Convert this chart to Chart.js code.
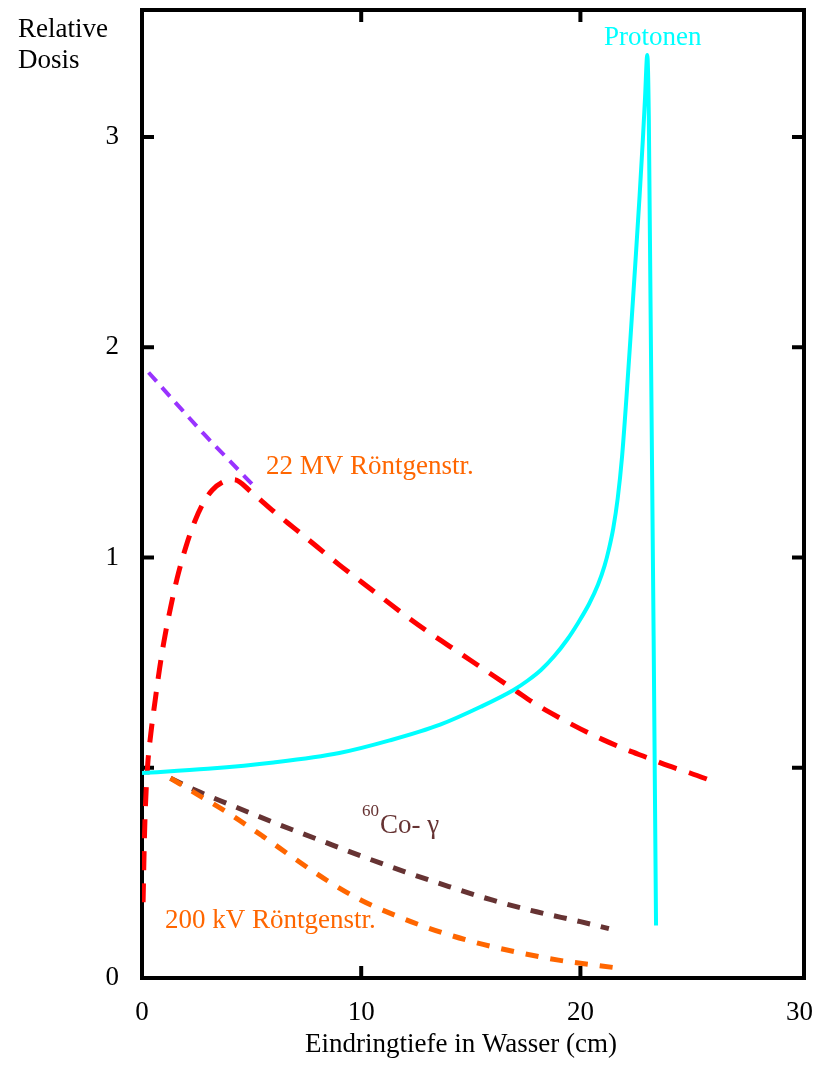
<!DOCTYPE html>
<html>
<head>
<meta charset="utf-8">
<script src="https://cdn.jsdelivr.net/npm/chart.js@4/dist/chart.umd.min.js"></script>
<style>
  html, body { margin: 0; padding: 0; background: #fff; }
  canvas { display: block; }
</style>
</head>
<body>
<canvas id="c" width="819" height="1065"></canvas>
<script>
// Axis ticks (depth in cm, dose in tick units)
const xTicks = [0, 10, 20, 30];
const yTicks = [0, 1, 2, 3, 4];
const yTickLabels = ['0', '', '1', '2', '3'];

// Protons: slow rise, Bragg peak, sharp fall-off
const protonDepth = [0, 3, 6, 9, 11.3, 13.6, 15.45, 16.95, 17.6, 18.2, 18.8, 19.4, 19.9, 20.4, 20.8, 21.1, 21.3, 21.5, 21.7, 21.9, 22.1, 22.3, 22.5, 22.7, 22.85, 22.95, 23.05, 23.12, 23.45];
const protonDose  = [0.975, 0.995, 1.025, 1.07, 1.13, 1.205, 1.29, 1.37, 1.415, 1.465, 1.53, 1.61, 1.69, 1.78, 1.87, 1.96, 2.04, 2.14, 2.28, 2.48, 2.76, 3.07, 3.39, 3.72, 3.99, 4.19, 4.39, 4.10, 0.25];

// 22 MV X-rays: build-up then slow decline
const mv22Depth = [0.05, 0.1, 0.15, 0.25, 0.4, 0.6, 0.8, 1.0, 1.3, 1.6, 2.0, 2.4, 2.8, 3.2, 3.7, 4.2, 5.0, 6.0, 7.0, 8.0, 9.0, 10.0, 11.0, 12.0, 13.0, 14.0, 15.0, 16.0, 17.0, 18.0, 19.0, 20.0, 21.0, 22.0, 23.0, 24.0, 25.0, 26.2];
const mv22Dose  = [0.36, 0.62, 0.80, 1.00, 1.16, 1.32, 1.47, 1.60, 1.76, 1.90, 2.05, 2.17, 2.26, 2.32, 2.36, 2.37, 2.31, 2.22, 2.135, 2.05, 1.965, 1.885, 1.805, 1.725, 1.65, 1.58, 1.51, 1.44, 1.37, 1.30, 1.24, 1.185, 1.135, 1.09, 1.05, 1.01, 0.975, 0.93];

// Short purple segment near the surface
const purpleDepth = [0.3, 1.5, 2.8, 4.0, 5.1];
const purpleDose  = [2.88, 2.74, 2.59, 2.46, 2.34];

// Co-60 gamma
const coDepth = [1.3, 2.5, 4, 6, 8, 10, 12, 14, 16, 18, 20, 21.3];
const coDose  = [0.95, 0.89, 0.825, 0.74, 0.66, 0.58, 0.505, 0.435, 0.37, 0.315, 0.268, 0.235];

// 200 kV X-rays
const kvDepth = [1.3, 2.5, 4, 5.5, 7, 8.5, 10, 11.5, 13, 15, 17, 19, 21.5];
const kvDose  = [0.95, 0.875, 0.78, 0.675, 0.565, 0.46, 0.37, 0.30, 0.24, 0.175, 0.125, 0.085, 0.05];

const pts = (xs, ys) => xs.map((x, i) => ({ x, y: ys[i] }));

const SERIF = '"Liberation Serif", "Times New Roman", serif';
const FONT_SIZE = 27;

const line = (ctx, x1, y1, x2, y2) => {
  ctx.beginPath(); ctx.moveTo(x1, y1); ctx.lineTo(x2, y2); ctx.stroke();
};

// Box frame with inward ticks, plus free text labels
const framePlugin = {
  id: 'framePlugin',
  beforeDatasetsDraw(chart) {
    const { ctx, chartArea: a, scales: { x, y } } = chart;
    ctx.save();
    ctx.strokeStyle = '#000';
    ctx.lineWidth = 4;
    ctx.lineCap = 'butt';
    ctx.strokeRect(a.left, a.top, a.right - a.left, a.bottom - a.top);
    const L = 12;
    xTicks.forEach(v => {
      if (v <= x.min || v >= 30) return;
      const px = x.getPixelForValue(v);
      line(ctx, px, a.bottom, px, a.bottom - L);
      line(ctx, px, a.top, px, a.top + L);
    });
    yTicks.forEach(v => {
      if (v <= y.min) return;
      const py = y.getPixelForValue(v);
      line(ctx, a.left, py, a.left + L, py);
      line(ctx, a.right, py, a.right - L, py);
    });
    ctx.restore();
  },
  afterDraw(chart) {
    const { ctx } = chart;
    ctx.save();
    ctx.textBaseline = 'alphabetic';
    ctx.textAlign = 'left';
    ctx.font = FONT_SIZE + 'px ' + SERIF;
    ctx.fillStyle = '#000';
    ctx.fillText('Relative', 18, 37);
    ctx.fillText('Dosis', 18, 68);
    ctx.textAlign = 'center';
    ctx.fillText('Eindringtiefe in Wasser (cm)', 461, 1052);

    ctx.textAlign = 'left';
    ctx.fillStyle = '#00ffff';
    ctx.fillText('Protonen', 604, 45);
    ctx.fillStyle = '#ff6600';
    ctx.fillText('22 MV Röntgenstr.', 266, 474);
    ctx.fillText('200 kV Röntgenstr.', 165, 928);
    ctx.fillStyle = '#663333';
    ctx.fillText('Co- γ', 380, 833);
    ctx.font = '17px ' + SERIF;
    ctx.fillText('60', 362, 816);
    ctx.restore();
  }
};

new Chart(document.getElementById('c'), {
  type: 'line',
  data: {
    datasets: [
      { label: 'Protonen', data: pts(protonDepth, protonDose), borderColor: '#00ffff', borderWidth: 4, borderJoinStyle: 'round' },
      { label: '22 MV Röntgenstr.', data: pts(mv22Depth, mv22Dose), borderColor: '#ff0000', borderWidth: 5, borderDash: [19, 13] },
      { label: 'purple', data: pts(purpleDepth, purpleDose), borderColor: '#9933ff', borderWidth: 4, borderDash: [12, 8] },
      { label: '200 kV Röntgenstr.', data: pts(kvDepth, kvDose), borderColor: '#ff6600', borderWidth: 5, borderDash: [13, 12] },
      { label: '60Co-γ', data: pts(coDepth, coDose), borderColor: '#663333', borderWidth: 5, borderDash: [13, 11] }
    ]
  },
  options: {
    responsive: false,
    animation: false,
    devicePixelRatio: 1,
    layout: { padding: { top: 10, right: 15, left: 0, bottom: 0 } },
    elements: {
      point: { radius: 0 },
      line: { cubicInterpolationMode: 'monotone', fill: false, borderCapStyle: 'butt' }
    },
    plugins: { legend: { display: false }, tooltip: { enabled: false } },
    scales: {
      x: {
        type: 'linear',
        min: 0,
        max: 30.2,
        afterBuildTicks: s => { s.ticks = xTicks.map(v => ({ value: v })); },
        afterFit: s => { s.height = 87; s.paddingLeft = 0; s.paddingRight = 0; },
        grid: { display: false },
        border: { display: false },
        ticks: {
          padding: 11,
          color: '#000',
          font: { family: SERIF, size: FONT_SIZE },
          maxRotation: 0,
          callback: v => String(v)
        }
      },
      y: {
        type: 'linear',
        min: 0,
        max: 4.604,
        afterBuildTicks: s => { s.ticks = yTicks.map(v => ({ value: v })); },
        afterFit: s => { s.width = 142; s.paddingTop = 0; s.paddingBottom = 0; },
        grid: { display: false },
        border: { display: false },
        ticks: {
          padding: 15,
          color: '#000',
          font: { family: SERIF, size: FONT_SIZE },
          callback: v => yTickLabels[yTicks.indexOf(v)]
        }
      }
    }
  },
  plugins: [framePlugin]
});
</script>
</body>
</html>
